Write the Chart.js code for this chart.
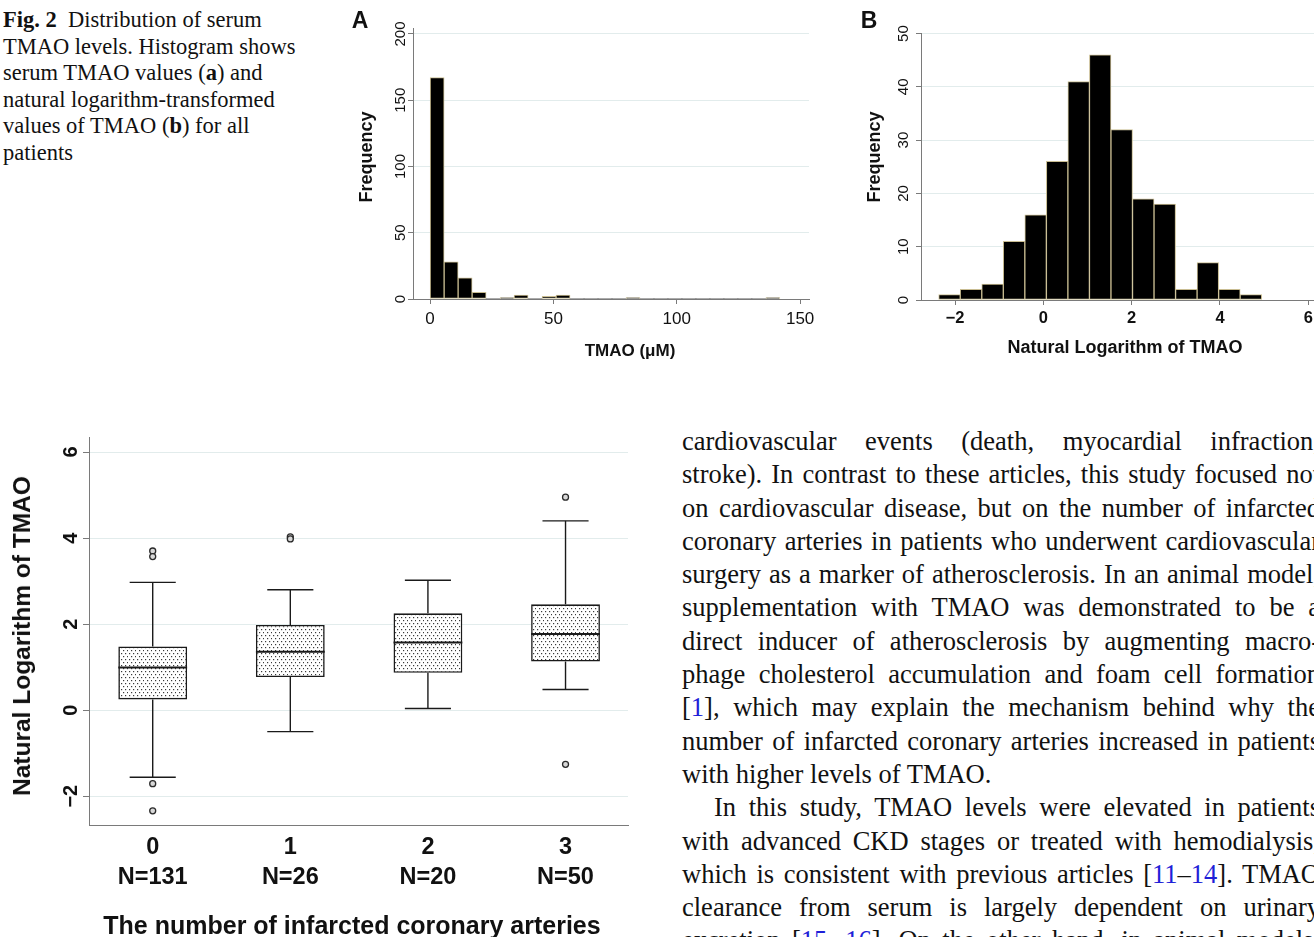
<!DOCTYPE html>
<html lang="en">
<head>
<meta charset="UTF-8">
<title>Fig. 2 Distribution of serum TMAO levels</title>
<script src="https://cdn.jsdelivr.net/npm/chart.js"></script>
<style>
    html, body { margin: 0; padding: 0; background: #fff; }
    body { width: 1314px; height: 937px; overflow: hidden; position: relative; }
    canvas { position: absolute; }
    .lbl {
        position: absolute;
        font-family: 'Liberation Sans', Arial, sans-serif;
        font-weight: bold;
        color: #111;
        white-space: nowrap;
        transform: translate(-50%, -50%);
    }
    .lbl.v { transform: translate(-50%, -50%) rotate(-90deg); }
    .caption {
        position: absolute; left: 3px; top: 7px;
        font-family: 'Liberation Serif', 'Times New Roman', serif;
        font-size: 22.5px; line-height: 26.5px; color: #111;
    }
    .text {
        position: absolute; left: 682px; top: 425px; width: 638px;
        font-family: 'Liberation Serif', 'Times New Roman', serif;
        font-size: 26.5px; line-height: 33.3px; color: #111;
    }
    .text div { text-align: justify; text-align-last: justify; }
    .text div.last { text-align-last: left; }
    .text div.indent { padding-left: 32px; }
    .ref { color: #1f1fd8; }
</style>
</head>
<body>

<div class="caption">
    <div><b>Fig. 2</b>&ensp;Distribution of serum</div>
    <div>TMAO levels. Histogram shows</div>
    <div>serum TMAO values (<b>a</b>) and</div>
    <div>natural logarithm-transformed</div>
    <div>values of TMAO (<b>b</b>) for all</div>
    <div>patients</div>
</div>

<canvas id="histA" width="470" height="370" style="left:350px; top:0px;"></canvas>
<canvas id="histB" width="480" height="370" style="left:860px; top:0px;"></canvas>
<canvas id="boxPlot" width="640" height="507" style="left:0px; top:430px;"></canvas>

<div class="lbl" style="left:360px; top:20px; font-size:23px;">A</div>
<div class="lbl v" style="left:366px; top:157px; font-size:18px;">Frequency</div>
<div class="lbl" style="left:630px; top:351px; font-size:17px;">TMAO (μM)</div>

<div class="lbl" style="left:869px; top:20px; font-size:23px;">B</div>
<div class="lbl v" style="left:874px; top:157px; font-size:18px;">Frequency</div>
<div class="lbl" style="left:1125px; top:347px; font-size:18px;">Natural Logarithm of TMAO</div>

<div class="lbl v" style="left:22px; top:636px; font-size:24.5px;">Natural Logarithm of TMAO</div>
<div class="lbl" style="left:352px; top:925px; font-size:25px;">The number of infarcted coronary arteries</div>

<div class="text">
    <div>cardiovascular events (death, myocardial infraction,</div>
    <div>stroke). In contrast to these articles, this study focused not</div>
    <div>on cardiovascular disease, but on the number of infarcted</div>
    <div>coronary arteries in patients who underwent cardiovascular</div>
    <div>surgery as a marker of atherosclerosis. In an animal model,</div>
    <div>supplementation with TMAO was demonstrated to be a</div>
    <div>direct inducer of atherosclerosis by augmenting macro-</div>
    <div>phage cholesterol accumulation and foam cell formation</div>
    <div>[<span class="ref">1</span>], which may explain the mechanism behind why the</div>
    <div>number of infarcted coronary arteries increased in patients</div>
    <div class="last">with higher levels of TMAO.</div>
    <div class="indent">In this study, TMAO levels were elevated in patients</div>
    <div>with advanced CKD stages or treated with hemodialysis,</div>
    <div>which is consistent with previous articles [<span class="ref">11</span>–<span class="ref">14</span>]. TMAO</div>
    <div>clearance from serum is largely dependent on urinary</div>
    <div>excretion [<span class="ref">15</span>, <span class="ref">16</span>]. On the other hand, in animal models,</div>
</div>

<script>
    // --- Panel A: histogram of serum TMAO (uM), 25 bins
    const tmaoBinStart = 0.05;
    const tmaoBinWidth = 5.67;
    const tmaoCounts = [167, 28, 16, 5, 0, 1, 3, 0, 2, 3, 0, 0, 0, 0, 1, 0, 0, 0, 0, 0, 0, 0, 0, 0, 1];
    const tmaoXTicks = [0, 50, 100, 150];
    const tmaoYTicks = [0, 50, 100, 150, 200];

    // --- Panel B: histogram of ln(TMAO), 15 bins
    const lnBinStart = -2.371;
    const lnBinWidth = 0.4877;
    const lnCounts = [1, 2, 3, 11, 16, 26, 41, 46, 32, 19, 18, 2, 7, 2, 1];
    const lnXTicks = [-2, 0, 2, 4, 6];
    const lnYTicks = [0, 10, 20, 30, 40, 50];

    // --- Box plot: ln(TMAO) by number of infarcted coronary arteries
    const groups = ['0', '1', '2', '3'];
    const groupN = ['N=131', 'N=26', 'N=20', 'N=50'];
    const whiskerLow = [-1.56, -0.50, 0.04, 0.48];
    const q1 = [0.25, 0.77, 0.87, 1.13];
    const median = [0.99, 1.36, 1.57, 1.77];
    const q3 = [1.48, 1.98, 2.25, 2.46];
    const whiskerHigh = [2.97, 2.80, 3.02, 4.40];
    const outliers = [[3.70, 3.57, -1.71, -2.34], [4.03, 3.98], [], [4.95, -1.26]];
    const boxYTicks = [-2, 0, 2, 4, 6];

    const sans = "'Liberation Sans', Arial, sans-serif";
    const axisGray = '#7a7a7a';
    const gridTint = '#e2ecec';
    const minus = v => (v < 0 ? '\u2212' + Math.abs(v) : String(v));

    function fixTicks(list) {
        return s => { s.ticks = list.map(v => ({ value: v })); };
    }
    function fixWidth(w) {
        return s => { s.width = w; s.paddingTop = 0; s.paddingBottom = 0; };
    }
    function fixHeight(h) {
        return s => { s.height = h; s.paddingLeft = 0; s.paddingRight = 0; };
    }

    function histogram(id, start, width, counts, o) {
        const points = counts.map((c, i) => ({ x: start + width * (i + 0.5), y: c }));
        return new Chart(document.getElementById(id), {
            type: 'bar',
            data: {
                datasets: [{
                    data: points,
                    backgroundColor: '#000',
                    borderColor: '#c9bd92',
                    borderWidth: ctx => (ctx.raw && ctx.raw.y > 0 ? 1 : 0),
                    borderSkipped: false,
                    barPercentage: 1,
                    categoryPercentage: 1
                }]
            },
            options: {
                responsive: false,
                animation: false,
                layout: { padding: { left: 0, right: 11, top: o.top, bottom: 0 } },
                plugins: { legend: { display: false }, tooltip: { enabled: false } },
                scales: {
                    x: {
                        type: 'linear', min: o.xMin, max: o.xMax, offset: false,
                        afterBuildTicks: fixTicks(o.xTicks),
                        afterFit: fixHeight(o.xHeight),
                        grid: { drawOnChartArea: false, tickLength: 5, tickColor: axisGray, offset: false },
                        border: { color: axisGray },
                        ticks: {
                            color: '#111', maxRotation: 0, padding: o.xPad,
                            font: { family: sans, size: o.xSize, weight: o.xBold ? 'bold' : 'normal' },
                            callback: v => minus(v)
                        }
                    },
                    y: {
                        min: 0, max: o.yMax,
                        afterBuildTicks: fixTicks(o.yTicks),
                        afterFit: fixWidth(o.yWidth),
                        grid: {
                            color: ctx => (ctx.tick && ctx.tick.value === 0 ? 'rgba(0,0,0,0)' : gridTint),
                            tickLength: 5, tickColor: axisGray
                        },
                        border: { color: axisGray },
                        ticks: {
                            color: '#111', minRotation: 90, maxRotation: 90, crossAlign: 'center',
                            padding: o.yPad, font: { family: sans, size: 15 }
                        }
                    }
                }
            }
        });
    }

    histogram('histA', tmaoBinStart, tmaoBinWidth, tmaoCounts, {
        top: 28, xMin: -6.9, xMax: 153.6, xTicks: tmaoXTicks, xHeight: 71, xBold: false,
        xSize: 17, xPad: 5,
        yMax: 204.5, yTicks: tmaoYTicks, yWidth: 63, yPad: -5.4
    });

    histogram('histB', lnBinStart, lnBinWidth, lnCounts, {
        top: 33, xMin: -2.772, xMax: 6.469, xTicks: lnXTicks, xHeight: 70, xBold: true,
        xSize: 16.5, xPad: 4,
        yMax: 50.1, yTicks: lnYTicks, yWidth: 61, yPad: 3.7
    });

    // dotted fill used inside the boxes
    function dotPattern() {
        const pc = document.createElement('canvas');
        pc.width = 8; pc.height = 6;
        const g = pc.getContext('2d');
        g.fillStyle = '#fff';
        g.fillRect(0, 0, 8, 6);
        g.fillStyle = '#3a3a3a';
        [[1, 1], [5, 1], [3, 4], [7, 4]].forEach(p => g.fillRect(p[0], p[1], 1.2, 1.2));
        return pc.getContext('2d').createPattern(pc, 'repeat');
    }

    const boxWidth = 0.5;
    const capWidth = 0.335;

    // medians, whiskers and caps drawn through the chart's scales
    const boxLines = {
        id: 'boxLines',
        afterDatasetsDraw(chart) {
            const { ctx, scales: { x, y } } = chart;
            ctx.save();
            ctx.strokeStyle = '#1a1a1a';
            const seg = (x1, y1, x2, y2, w) => {
                ctx.lineWidth = w;
                ctx.beginPath();
                ctx.moveTo(x1, y1);
                ctx.lineTo(x2, y2);
                ctx.stroke();
            };
            groups.forEach((g, i) => {
                const cx = x.getPixelForValue(i);
                const bh = x.getPixelForValue(i + boxWidth / 2) - cx;
                const ch = x.getPixelForValue(i + capWidth / 2) - cx;
                seg(cx - bh, y.getPixelForValue(median[i]), cx + bh, y.getPixelForValue(median[i]), 2);
                seg(cx, y.getPixelForValue(q3[i]), cx, y.getPixelForValue(whiskerHigh[i]), 1.4);
                seg(cx, y.getPixelForValue(q1[i]), cx, y.getPixelForValue(whiskerLow[i]), 1.4);
                seg(cx - ch, y.getPixelForValue(whiskerHigh[i]), cx + ch, y.getPixelForValue(whiskerHigh[i]), 1.4);
                seg(cx - ch, y.getPixelForValue(whiskerLow[i]), cx + ch, y.getPixelForValue(whiskerLow[i]), 1.4);
            });
            ctx.restore();
        }
    };

    const outlierPoints = [];
    outliers.forEach((list, i) => list.forEach(v => outlierPoints.push({ x: i, y: v })));

    new Chart(document.getElementById('boxPlot'), {
        type: 'bar',
        data: {
            datasets: [{
                type: 'bar',
                data: groups.map((g, i) => ({ x: i, y: [q1[i], q3[i]] })),
                backgroundColor: dotPattern(),
                borderColor: '#1a1a1a',
                borderWidth: 1.6,
                borderSkipped: false,
                barPercentage: boxWidth,
                categoryPercentage: 1
            }, {
                type: 'scatter',
                data: outlierPoints,
                pointRadius: 3,
                pointBorderWidth: 1.3,
                pointBorderColor: '#2a2a2a',
                pointBackgroundColor: '#d8d8d8'
            }]
        },
        options: {
            responsive: false,
            animation: false,
            layout: { padding: { left: 0, right: 12, top: 7, bottom: 0 } },
            plugins: { legend: { display: false }, tooltip: { enabled: false } },
            scales: {
                x: {
                    type: 'linear', min: -0.463, max: 3.454, offset: false,
                    afterBuildTicks: fixTicks(groups.map((g, i) => i)),
                    afterFit: fixHeight(112),
                    grid: { display: false },
                    border: { color: axisGray },
                    ticks: {
                        color: '#111', maxRotation: 0, padding: -1,
                        font: { family: sans, size: 23.5, weight: 'bold', lineHeight: 1.28 },
                        callback: v => [groups[v], groupN[v]]
                    }
                },
                y: {
                    min: -2.67, max: 6.35,
                    afterBuildTicks: fixTicks(boxYTicks),
                    afterFit: fixWidth(89),
                    grid: { color: gridTint, tickLength: 6, tickColor: axisGray },
                    border: { color: axisGray },
                    ticks: {
                        color: '#111', minRotation: 90, maxRotation: 90, crossAlign: 'center',
                        padding: 0.6, font: { family: sans, size: 20, weight: 'bold' },
                        callback: v => minus(v)
                    }
                }
            }
        },
        plugins: [boxLines]
    });
</script>
</body>
</html>
